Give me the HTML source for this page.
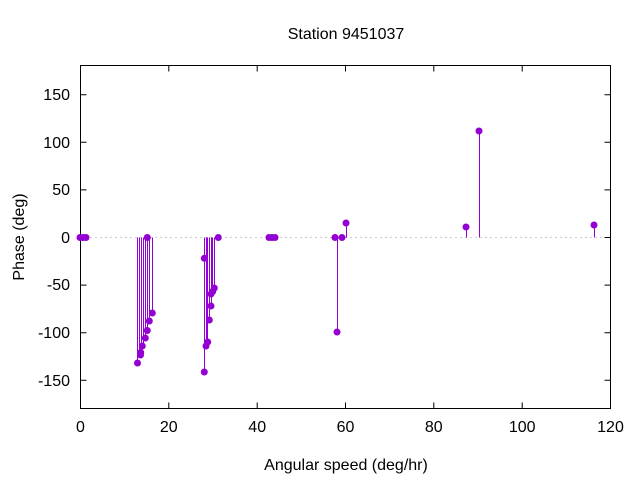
<!DOCTYPE html>
<html><head><style>body{margin:0;background:#fff}</style></head><body>
<svg width="640" height="480" xmlns="http://www.w3.org/2000/svg" font-family="Liberation Sans, DejaVu Sans, sans-serif" font-size="16">
<rect width="640" height="480" fill="#fff"/>
<line x1="80.5" y1="237.5" x2="611" y2="237.5" stroke="#999" stroke-dasharray="1,4"/>
<g stroke="#000" stroke-width="1">
<rect x="80.5" y="65.5" width="530" height="343" fill="none"/>
<path d="M80.5 408.5v-6M80.5 65.5v6M168.8 408.5v-6M168.8 65.5v6M257.2 408.5v-6M257.2 65.5v6M345.5 408.5v-6M345.5 65.5v6M433.8 408.5v-6M433.8 65.5v6M522.2 408.5v-6M522.2 65.5v6M610.5 408.5v-6M610.5 65.5v6"/>
<path d="M80.5 94.7h6M610.5 94.7h-6M80.5 142.3h6M610.5 142.3h-6M80.5 189.9h6M610.5 189.9h-6M80.5 237.5h6M610.5 237.5h-6M80.5 285.1h6M610.5 285.1h-6M80.5 332.7h6M610.5 332.7h-6M80.5 380.3h6M610.5 380.3h-6"/>
</g>
<g text-anchor="end" fill="#000">
<text x="70" y="100">150</text><text x="70" y="148">100</text><text x="70" y="195">50</text><text x="70" y="243">0</text><text x="70" y="290">-50</text><text x="70" y="338">-100</text><text x="70" y="386">-150</text>
</g>
<g text-anchor="middle" fill="#000">
<text x="80.5" y="432">0</text><text x="168.8" y="432">20</text><text x="257.2" y="432">40</text><text x="345.5" y="432">60</text><text x="433.8" y="432">80</text><text x="522.2" y="432">100</text><text x="610.5" y="432">120</text>
<text x="346" y="470">Angular speed (deg/hr)</text>
<text x="346" y="39">Station 9451037</text>
<text transform="translate(24,237) rotate(-90)">Phase (deg)</text>
</g>
<g stroke="#9400d3" stroke-width="1" shape-rendering="crispEdges">
<path d="M137.5 237.5V363M139.5 237.5V355M141.5 237.5V352.5M143.5 237.5V346M145.5 237.5V338M147.5 237.5V330.5M149.5 237.5V321M152.5 237.5V313M204.5 237.5V372M206.5 237.5V346M207.5 237.5V342M209.5 237.5V320M211.5 237.5V306M212.5 237.5V292M214.5 237.5V288M337.5 237.5V332M346.5 237.5V223M466.5 237.5V227M479.5 237.5V131M594.5 237.5V225"/>
</g>
<g fill="#9400d3">
<circle cx="80" cy="237.5" r="3.5"/><circle cx="83" cy="237.5" r="3.5"/><circle cx="86" cy="237.5" r="3.5"/>
<circle cx="137.5" cy="363" r="3.5"/><circle cx="140.5" cy="355" r="3.5"/><circle cx="140.7" cy="352.5" r="3.5"/><circle cx="142.3" cy="346" r="3.5"/><circle cx="145.3" cy="338" r="3.5"/><circle cx="147.3" cy="330.5" r="3.5"/><circle cx="149.3" cy="321" r="3.5"/><circle cx="152.3" cy="313" r="3.5"/><circle cx="147.3" cy="237.5" r="3.5"/>
<circle cx="204.3" cy="258.3" r="3.5"/><circle cx="204.3" cy="372" r="3.5"/><circle cx="206" cy="346" r="3.5"/><circle cx="207.7" cy="342" r="3.5"/><circle cx="209.3" cy="320" r="3.5"/><circle cx="211" cy="306" r="3.5"/><circle cx="211" cy="294" r="3.5"/><circle cx="212.7" cy="291.5" r="3.5"/><circle cx="214.3" cy="288" r="3.5"/><circle cx="218.3" cy="237.5" r="3.5"/>
<circle cx="269" cy="237.5" r="3.5"/><circle cx="272" cy="237.5" r="3.5"/><circle cx="275" cy="237.5" r="3.5"/>
<circle cx="335" cy="237.5" r="3.5"/><circle cx="337" cy="332" r="3.5"/><circle cx="342" cy="237.5" r="3.5"/><circle cx="346" cy="223" r="3.5"/>
<circle cx="466" cy="227" r="3.5"/><circle cx="479" cy="131" r="3.5"/><circle cx="594" cy="225" r="3.5"/>
</g>
</svg>
</body></html>
